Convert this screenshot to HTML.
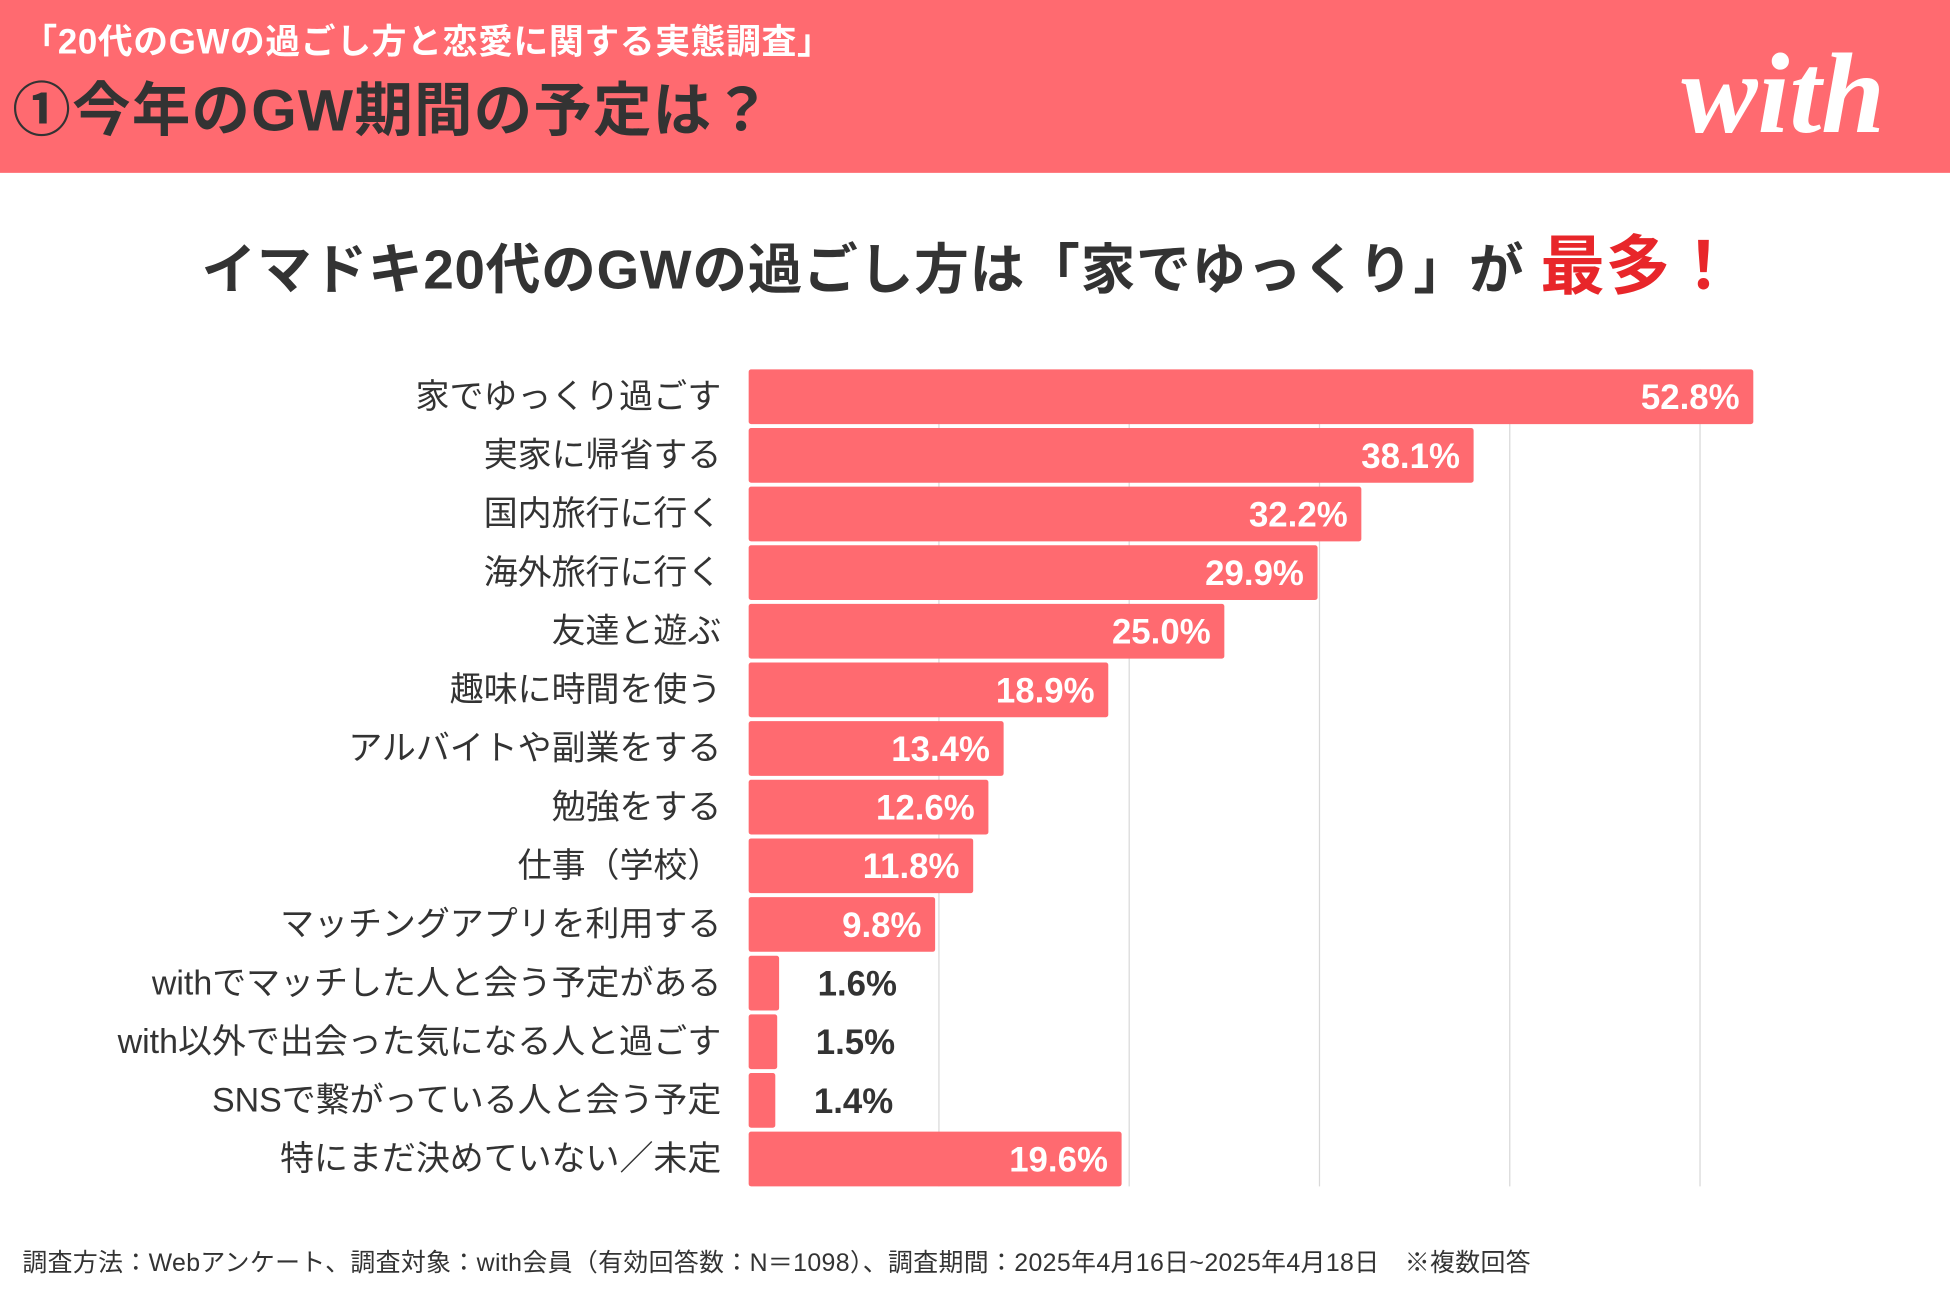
<!DOCTYPE html>
<html><head><meta charset="utf-8">
<style>
html,body{margin:0;padding:0;width:1950px;height:1300px;overflow:hidden;background:#fff;}
#wrap{position:absolute;left:0;top:0;width:1568px;height:1046px;transform:scale(1.24362);transform-origin:0 0;font-family:"Liberation Sans","Noto Sans CJK JP",sans-serif;}
.abs{position:absolute;white-space:nowrap;}
</style></head><body>
<div id="wrap">
  <div class="abs" style="left:0;top:0;width:1568px;height:139px;background:#ff6a70;"></div>
  <div class="abs" style="left:18px;top:12px;font-size:28px;color:#fff;font-weight:bold;letter-spacing:0.5px;">「20代のGWの過ごし方と恋愛に関する実態調査」</div>
  <div class="abs" style="left:10px;top:50px;font-size:47px;color:#333;font-weight:bold;letter-spacing:1px;">①今年のGW期間の予定は？</div>
  <div class="abs" style="left:1352px;top:22px;font-size:92px;color:#fff;font-family:'Liberation Serif',serif;font-style:italic;font-weight:bold;letter-spacing:0px;">with</div>
  <div class="abs" style="left:162px;top:172px;font-size:44px;font-weight:bold;color:#333;letter-spacing:0.6px;">イマドキ20代のGWの過ごし方は「家でゆっくり」が <span style="color:#e8262a;font-size:52px;">最多！</span></div>
  <svg id="chart" class="abs" style="left:0;top:0;" width="1568" height="1046"></svg>
  <div class="abs" style="left:18px;top:999px;font-size:20px;color:#333;letter-spacing:0.3px;">調査方法：Webアンケート、調査対象：with会員（有効回答数：N＝1098）、調査期間：2025年4月16日~2025年4月18日　※複数回答</div>
</div>
<script>
const categories=["家でゆっくり過ごす","実家に帰省する","国内旅行に行く","海外旅行に行く","友達と遊ぶ","趣味に時間を使う","アルバイトや副業をする","勉強をする","仕事（学校）","マッチングアプリを利用する","withでマッチした人と会う予定がある","with以外で出会った気になる人と過ごす","SNSで繋がっている人と会う予定","特にまだ決めていない／未定"];
const values=[52.8,38.1,32.2,29.9,25.0,18.9,13.4,12.6,11.8,9.8,1.6,1.5,1.4,19.6];
const labels=["52.8%","38.1%","32.2%","29.9%","25.0%","18.9%","13.4%","12.6%","11.8%","9.8%","1.6%","1.5%","1.4%","19.6%"];
const gridTicks=[10,20,30,40,50];
const svg=document.getElementById('chart');
const NS='http://www.w3.org/2000/svg';
const x0=602, pxPer=15.3, top0=297, pitch=47.15, bh=44;
const xs=v=>x0+v*pxPer;
const ys=i=>top0+i*pitch;
const bottom=ys(categories.length-1)+bh;
gridTicks.forEach(t=>{
  const l=document.createElementNS(NS,'line');
  
  
  l.setAttribute('x1',xs(t));l.setAttribute('x2',xs(t));
  l.setAttribute('y1',top0);l.setAttribute('y2',bottom);
  l.setAttribute('stroke','#d9d9d9');l.setAttribute('stroke-width','1');
  svg.appendChild(l);
});
categories.forEach((c,i)=>{
  const y=ys(i), w=values[i]*pxPer;
  const r=document.createElementNS(NS,'rect');
  
  
  r.setAttribute('x',x0);r.setAttribute('y',y);r.setAttribute('width',w);r.setAttribute('height',bh);
  r.setAttribute('rx','2');r.setAttribute('fill','#ff6a70');
  svg.appendChild(r);
  const t=document.createElementNS(NS,'text');
  
  
  t.setAttribute('x',580);t.setAttribute('y',y+bh/2+9);
  t.setAttribute('text-anchor','end');t.setAttribute('font-size','27.3');t.setAttribute('fill','#333');
  t.textContent=c;svg.appendChild(t);
  const v=document.createElementNS(NS,'text');
  
  
  v.setAttribute('y',y+bh/2+10);v.setAttribute('font-size','28');v.setAttribute('font-weight','bold');
  if(w>100){v.setAttribute('x',xs(values[i])-11);v.setAttribute('text-anchor','end');v.setAttribute('fill','#fff');}
  else{v.setAttribute('x',xs(values[i])+31);v.setAttribute('text-anchor','start');v.setAttribute('fill','#333');}
  v.textContent=labels[i];svg.appendChild(v);
});
</script>
</body></html>
